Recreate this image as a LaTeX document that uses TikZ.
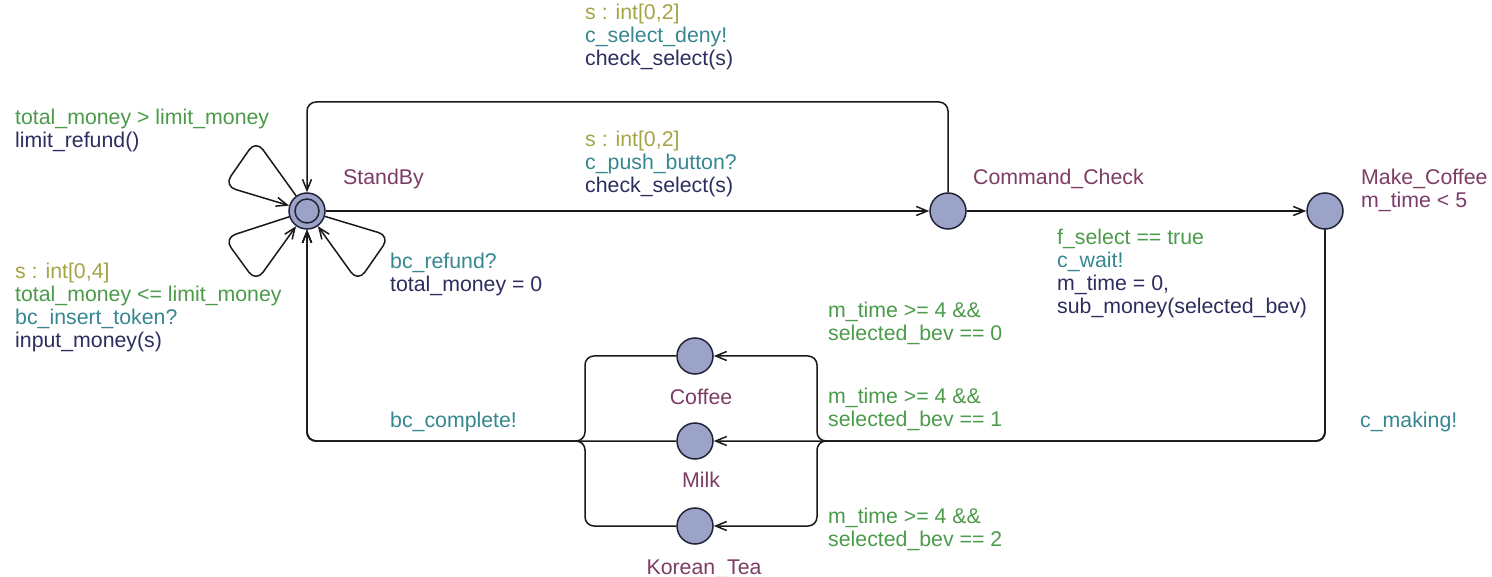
\documentclass[tikz,border=0pt]{standalone}
\usepackage{fontspec}
\setmainfont{Liberation Sans}
\usetikzlibrary{arrows.meta}
\definecolor{cselect}{RGB}{165,165,70}
\definecolor{cguard}{RGB}{75,155,75}
\definecolor{csync}{RGB}{55,135,145}
\definecolor{cupdate}{RGB}{45,45,95}
\definecolor{cname}{RGB}{125,60,100}
\definecolor{cinv}{RGB}{125,60,110}
\definecolor{locfill}{RGB}{155,163,200}
\definecolor{locline}{RGB}{35,35,55}
\definecolor{edgecol}{RGB}{25,25,25}
\newcommand\ulab[1]{\begin{tabular}[t]{@{}l@{}}#1\end{tabular}}
\tikzset{
  loc/.style={circle, draw=locline, fill=locfill, line width=1.5pt, minimum size=36pt, inner sep=0pt},
  edge/.style={draw=edgecol, line width=1.5pt, rounded corners=9pt},
  arr/.style={-{Straight Barb[length=11pt,width=9pt]}},
  lab/.style={anchor=base west, inner sep=0pt, font=\fontsize{21.3}{23}\selectfont},
  lname/.style={lab, text=cname},
  cname/.style={anchor=base, inner sep=0pt, text=cname, font=\fontsize{21.3}{23}\selectfont},
}
\begin{document}
\begin{tikzpicture}[x=1pt,y=-1pt]
\useasboundingbox[fill=white] (0,0) rectangle (1492,577);
% locations
\node[loc] (S) at (307,211) {};
\draw[locline, line width=1.5pt] (S.center) circle[radius=12pt];
\node[loc] (CC) at (948,211) {};
\node[loc] (MC) at (1325,211) {};
\node[loc] (Cof) at (695,356) {};
\node[loc] (Milk) at (695,441) {};
\node[loc] (KT) at (695,526) {};
% self loops on StandBy
\draw[edge,rounded corners=12pt,arr] (S) -- (256,140) -- (224,186) -- (S);
\draw[edge,rounded corners=12pt,arr] (S) -- (224,238) -- (256,282) -- (S);
\draw[edge,rounded corners=12pt,arr] (S) -- (390,236) -- (358,282) -- (S);
% main edges
\draw[edge,arr] (S) -- (CC);
\draw[edge,arr] (CC) -- (MC);
\draw[edge,arr] (CC) -- (948,102) -- (307,102) -- (S);
\draw[edge,arr] (MC) -- (1325,441) -- (817,441) -- (817,356) -- (Cof);
\draw[edge,arr] (MC) -- (1325,441) -- (Milk);
\draw[edge,arr] (MC) -- (1325,441) -- (817,441) -- (817,526) -- (KT);
\draw[edge,arr] (Cof) -- (585,356) -- (585,441) -- (307,441) -- (S);
\draw[edge,arr] (Milk) -- (307,441) -- (S);
\draw[edge,arr] (KT) -- (585,526) -- (585,441) -- (307,441) -- (S);
% location names
\node[lname] (nS) at (343,185) {StandBy};
\node[lname] (nCC) at (973,185) {Command\_Check};
\node[lab] (nMC) at (1361,185) {\ulab{\textcolor{cname}{Make\_Coffee}\\ \textcolor{cinv}{m\_time < 5}}};
\node[cname] (nCof) at (701,404) {Coffee};
\node[cname] (nMilk) at (701,487) {Milk};
\node[cname] (nKT) at (704,574) {Korean\_Tea};
% edge labels
\node[lab] (l1) at (15,125) {\ulab{\textcolor{cguard}{total\_money > limit\_money}\\ \textcolor{cupdate}{limit\_refund()}}};
\node[lab] (l2) at (15,279) {\ulab{\textcolor{cselect}{s : int[0,4]}\\ \textcolor{cguard}{total\_money <= limit\_money}\\ \textcolor{csync}{bc\_insert\_token?}\\ \textcolor{cupdate}{input\_money(s)}}};
\node[lab] (l3) at (390,269) {\ulab{\textcolor{csync}{bc\_refund?}\\ \textcolor{cupdate}{total\_money = 0}}};
\node[lab] (l4) at (585,20) {\ulab{\textcolor{cselect}{s : int[0,2]}\\ \textcolor{csync}{c\_select\_deny!}\\ \textcolor{cupdate}{check\_select(s)}}};
\node[lab] (l5) at (585,147) {\ulab{\textcolor{cselect}{s : int[0,2]}\\ \textcolor{csync}{c\_push\_button?}\\ \textcolor{cupdate}{check\_select(s)}}};
\node[lab] (l6) at (1057,245) {\ulab{\textcolor{cguard}{f\_select == true}\\ \textcolor{csync}{c\_wait!}\\ \textcolor{cupdate}{m\_time = 0,}\\ \textcolor{cupdate}{sub\_money(selected\_bev)}}};
\node[lab, text=cguard] (l7) at (828,318) {\ulab{m\_time >= 4 \&\&\\ selected\_bev == 0}};
\node[lab, text=cguard] (l8) at (828,403) {\ulab{m\_time >= 4 \&\&\\ selected\_bev == 1}};
\node[lab, text=cguard] (l9) at (828,523) {\ulab{m\_time >= 4 \&\&\\ selected\_bev == 2}};
\node[lab, text=csync] (l10) at (390,427) {bc\_complete!};
\node[lab, text=csync] (l11) at (1360,427) {c\_making!};
\end{tikzpicture}
\end{document}
